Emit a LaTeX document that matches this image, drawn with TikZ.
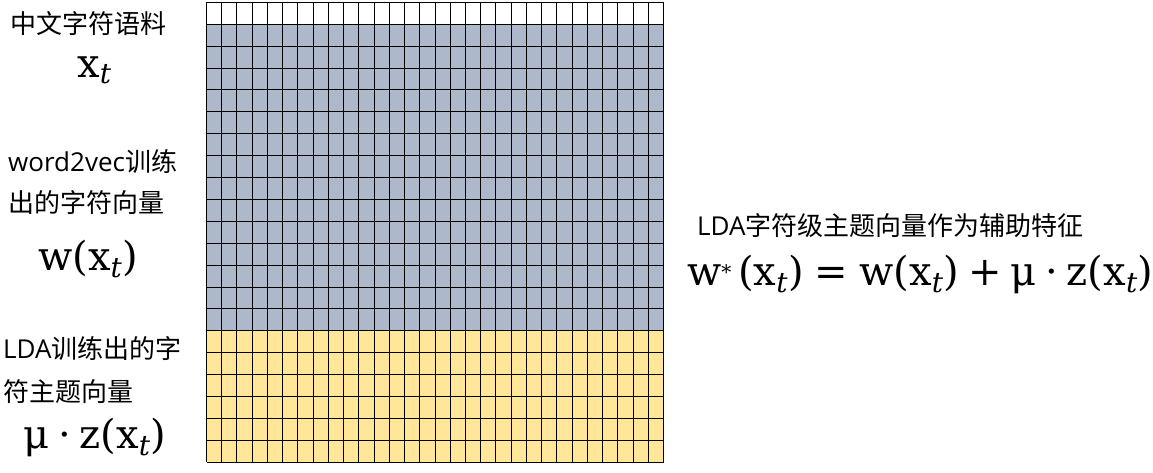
\RequirePackage{fix-cm}
\documentclass[tikz,border=0pt]{standalone}
\usepackage{amsmath}
\usepackage[no-math]{fontspec}
\setmainfont{Noto Sans CJK SC}
\newfontfamily\os{Open Sans}
\newfontfamily\ms{DejaVu Serif}
\definecolor{gblue}{HTML}{ADB9CA}
\definecolor{gyel}{HTML}{FFE699}
\newcommand{\R}[1]{\text{\ms #1}}
\newcommand{\I}[1]{\text{\ms\itshape #1}}
\newcommand{\smallstar}{\text{\ms\fontsize{20}{20}\selectfont\raisebox{6pt}{*}}}
\tikzset{
  cjk/.style={anchor=west, inner sep=0pt, font=\fontsize{26}{30}\selectfont},
  mth/.style={anchor=base west, inner sep=0pt, font=\fontsize{40}{48}\selectfont},
  gline/.style={line width=1pt, black}
}
\begin{document}
\begin{tikzpicture}[x=1pt,y=-1pt]
\useasboundingbox (0,0) rectangle (1153,473);
% grid fills
\fill[white] (206.5,2.3) rectangle (663.5,24.205);
\fill[gblue] (206.5,24.205) rectangle (663.5,330.875);
\fill[gyel] (206.5,330.875) rectangle (663.5,462.3);
\foreach \i in {0,...,30} \draw[gline] (206.5+\i*15.2333,2.3) -- (206.5+\i*15.2333,462.3);
\foreach \j in {0,...,21} \draw[gline] (206.5,2.3+\j*21.905) -- (663.5,2.3+\j*21.905);
% left labels
\node[cjk] (c1) at (10,23.5) {中文字符语料};
\node[mth] (m1) at (77,78) {$\R{x}_{\I{t}}$};
\node[cjk] (c2) at (8,162) {{\os word2vec}训练};
\node[cjk] (c3) at (8,203) {出的字符向量};
\node[mth] (m2) at (38,270) {$\R{w(x}_{\I{t}}\R{)}$};
\node[cjk] (c4) at (3,349) {{\os LDA}训练出的字};
\node[cjk] (c5) at (3,392) {符主题向量};
\node[mth] (m3) at (23,448) {$\R{μ}\mathbin{\R{·}}\R{z(x}_{\I{t}}\R{)}$};
% right labels
\node[cjk] (c6) at (697,226) {{\os LDA}字符级主题向量作为辅助特征};
\node[mth] (m4) at (687,285) {$\R{w}\smallstar\R{\,(x}_{\I{t}}\R{)}\mathrel{\R{=}}\R{w(x}_{\I{t}}\R{)}\mathbin{\R{+}}\R{μ}\mathbin{\R{·}}\R{z(x}_{\I{t}}\R{)}$};
\end{tikzpicture}
\end{document}
